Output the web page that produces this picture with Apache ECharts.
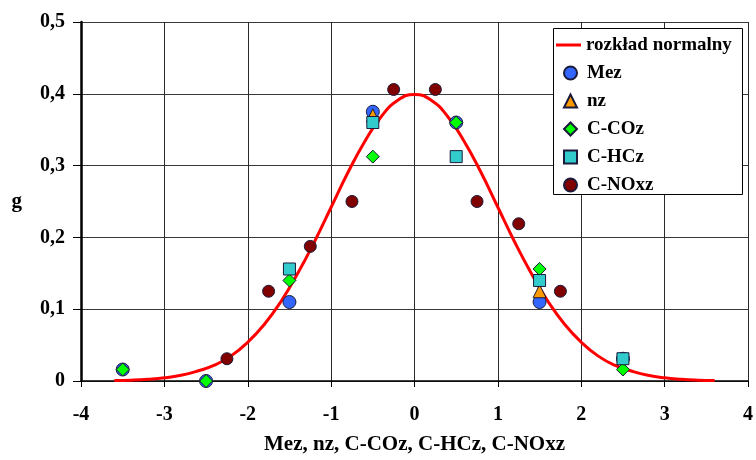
<!DOCTYPE html>
<html>
<head>
<meta charset="utf-8">
<script src="https://cdn.jsdelivr.net/npm/echarts@6/dist/echarts.min.js"></script>
<style>
html,body{margin:0;padding:0;background:#fff;}
#c{width:756px;height:460px;}
</style>
</head>
<body>
<div id="c"></div>
<script>
// Normal curve
var curveX = [-3.6,-3.4,-3.2,-3.0,-2.8,-2.6,-2.4,-2.2,-2.0,-1.8,-1.6,-1.4,-1.2,-1.0,-0.8,-0.6,-0.4,-0.2,0,0.2,0.4,0.6,0.8,1.0,1.2,1.4,1.6,1.8,2.0,2.2,2.4,2.6,2.8,3.0,3.2,3.4,3.6];
var curveY = [0.0006,0.0012,0.0024,0.0044,0.008,0.014,0.022,0.035,0.054,0.079,0.111,0.150,0.194,0.242,0.290,0.333,0.368,0.391,0.399,0.391,0.368,0.333,0.290,0.242,0.194,0.150,0.111,0.079,0.054,0.035,0.022,0.014,0.008,0.0044,0.0024,0.0012,0.0006];

var classX = [-3.5,-2.5,-1.5,-0.5,0.5,1.5,2.5];
var mezY  = [0.016,0,0.11,0.375,0.36,0.11,0.031];
var nzY   = [null,null,null,0.37,null,0.125,null];
var ccozY = [0.016,0,0.14,0.3125,0.36,0.156,0.016];
var chczY = [null,null,0.156,0.36,0.3125,0.14,0.031];

var noxX = [-2.25,-1.75,-1.25,-0.75,-0.25,0.25,0.75,1.25,1.75];
var noxY = [0.031,0.125,0.1875,0.25,0.406,0.406,0.25,0.219,0.125];

var yTicks = ['0','0,1','0,2','0,3','0,4','0,5'];
var seriesNames = ['rozkład normalny','Mez','nz','C-COz','C-HCz','C-NOxz'];

function pairs(xs, ys){
  var out = [];
  xs.forEach(function(x,i){ if (ys[i] !== null) out.push([x, ys[i]]); });
  return out;
}

var font = '"Liberation Serif","Times New Roman",serif';
var chart = echarts.init(document.getElementById('c'), null, {renderer:'canvas'});
var sym = function(name, symbol, color, size, data){
  return {name:name, type:'scatter', symbol:symbol, symbolSize:size, data:data,
    itemStyle:{color:color, borderColor:'#1a1a3a', borderWidth:1, opacity:1}, z:3};
};
var legendText = {fontFamily:font, fontWeight:'bold', fontSize:19, color:'#000', lineHeight:20};
chart.setOption({
  animation:false,
  backgroundColor:'#fff',
  grid:{left:81, right:7, top:22, bottom:78, show:false},
  graphic:[{type:'rect', left:553, top:28, z:5, zlevel:0,
    shape:{width:189, height:166}, style:{fill:'#fff', stroke:'#000', lineWidth:1}}],
  xAxis:{type:'value', min:-4, max:4, interval:1,
    name:'Mez, nz, C-COz, C-HCz, C-NOxz', nameLocation:'middle', nameGap:53,
    nameTextStyle:{fontFamily:font, fontWeight:'bold', fontSize:21, color:'#000'},
    axisLine:{show:true, onZero:false, lineStyle:{color:'#000', width:1.5}},
    axisTick:{show:true, length:6, lineStyle:{color:'#000'}},
    axisLabel:{fontFamily:font, fontWeight:'bold', fontSize:20, color:'#000', margin:24,
      formatter:function(v){return String(v);}},
    splitLine:{show:true, lineStyle:{color:'#2a2a2a', width:1}}
  },
  yAxis:{type:'value', min:0, max:0.5, interval:0.1,
    name:'g', nameLocation:'middle', nameGap:59, nameRotate:0,
    nameTextStyle:{fontFamily:font, fontWeight:'bold', fontSize:21, color:'#000'},
    axisLine:{show:true, onZero:false, lineStyle:{color:'#000', width:2.5}},
    axisTick:{show:true, length:8, lineStyle:{color:'#000'}},
    axisLabel:{fontFamily:font, fontWeight:'bold', fontSize:20, color:'#000', margin:16,
      formatter:function(v){var i=Math.round(v*10); return yTicks[i];}},
    splitLine:{show:true, lineStyle:{color:'#3a3a3a', width:1}}
  },
  legend:[
    {orient:'vertical', left:556, top:35, padding:0, itemGap:8, itemWidth:25, itemHeight:3,
      icon:'rect', textStyle:legendText, z:6,
      data:[{name:seriesNames[0]}]},
    {orient:'vertical', left:563, top:63, padding:0, itemGap:8, itemWidth:13, itemHeight:13,
      textStyle:Object.assign({}, legendText, {padding:[0,0,0,5]}), z:6,
      data:seriesNames.slice(1).map(function(n){return {name:n};})}
  ],
  series:[
    {name:seriesNames[0], type:'line', smooth:true, showSymbol:false, symbol:'none',
      data:pairs(curveX, curveY), lineStyle:{color:'#ff0000', width:3}, itemStyle:{color:'#ff0000'}, z:2},
    sym(seriesNames[1],'circle','#3366ff',13,pairs(classX, mezY)),
    sym(seriesNames[2],'triangle','#ff9900',13,pairs(classX, nzY)),
    sym(seriesNames[3],'diamond','#00ff00',13,pairs(classX, ccozY)),
    sym(seriesNames[4],'rect','#33cccc',12,pairs(classX, chczY)),
    sym(seriesNames[5],'circle','#800000',12,pairs(noxX, noxY))
  ]
});
</script>
</body>
</html>
